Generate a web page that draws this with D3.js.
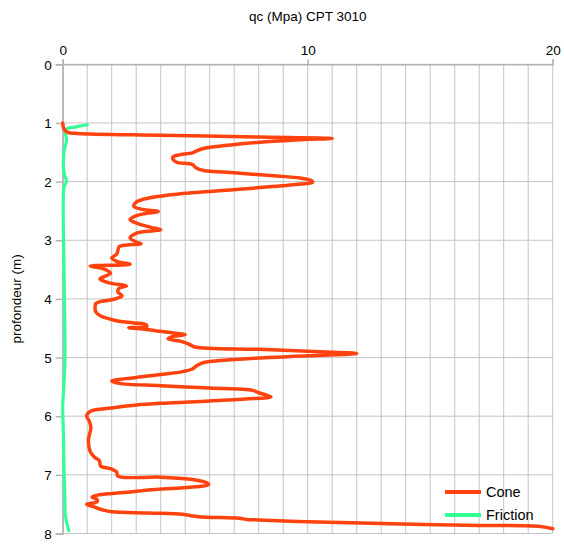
<!DOCTYPE html>
<html>
<head>
<meta charset="utf-8">
<script src="https://cdn.jsdelivr.net/npm/d3@7"></script>
<style>
html,body{margin:0;padding:0;background:#fff;}
svg{display:block;font-family:"Liberation Sans",Arial,sans-serif;}
</style>
</head>
<body>
<svg id="chart" width="564" height="544"></svg>
<script>
// ---- data ----
const chartTitle = "qc (Mpa) CPT 3010";
const yTitle = "profondeur (m)";
const seriesNames = ["Cone", "Friction"];
const xTicks = [0, 10, 20];
const yTicks = [0, 1, 2, 3, 4, 5, 6, 7, 8];

const coneDepth = [1.00,1.10,1.16,1.18,1.21,1.24,1.265,1.29,1.36,1.44,1.48,1.51,1.54,1.58,1.62,1.67,1.71,1.77,1.81,1.85,1.90,1.94,1.98,2.01,2.05,2.12,2.20,2.26,2.30,2.35,2.42,2.47,2.51,2.55,2.60,2.65,2.72,2.78,2.82,2.86,2.90,2.96,3.03,3.06,3.08,3.11,3.18,3.24,3.30,3.36,3.41,3.44,3.47,3.50,3.56,3.60,3.66,3.70,3.74,3.78,3.82,3.88,3.95,4.01,4.05,4.08,4.15,4.22,4.29,4.34,4.38,4.41,4.44,4.47,4.49,4.52,4.57,4.61,4.64,4.68,4.72,4.77,4.82,4.86,4.90,4.93,4.97,5.02,5.08,5.13,5.20,5.24,5.29,5.34,5.40,5.44,5.48,5.52,5.56,5.60,5.64,5.67,5.70,5.74,5.78,5.81,5.86,5.91,5.99,6.10,6.20,6.40,6.60,6.70,6.76,6.85,6.90,6.95,7.02,7.04,7.08,7.14,7.17,7.21,7.25,7.30,7.34,7.38,7.42,7.46,7.50,7.55,7.60,7.63,7.65,7.67,7.70,7.72,7.74,7.76,7.77,7.80,7.83,7.86,7.88,7.92];
const coneQc = [0.0,0.05,0.2,0.6,4.0,8.0,11.0,9.5,7.2,5.7,5.45,5.3,4.8,4.5,4.5,4.65,5.3,5.45,5.75,7.0,8.6,9.7,10.15,10.2,9.5,7.5,5.0,3.8,3.3,3.0,2.9,3.2,3.9,3.3,2.9,2.75,3.1,3.6,4.0,3.2,2.9,2.75,3.0,3.2,2.6,2.3,2.25,2.2,2.0,2.2,2.75,1.12,1.5,1.75,1.95,1.8,1.52,1.7,2.05,2.6,2.3,2.25,2.42,2.05,1.5,1.35,1.32,1.35,1.55,1.9,2.3,2.9,3.4,3.43,2.7,3.4,4.3,5.0,4.5,4.3,4.8,5.15,5.4,8.0,10.5,12.0,10.0,7.5,5.8,5.5,5.27,4.9,4.0,3.0,2.0,2.3,4.0,6.0,7.75,8.0,8.3,8.5,7.8,6.0,4.0,3.0,2.0,1.15,0.98,1.1,1.15,1.05,1.12,1.3,1.5,1.55,2.0,2.2,2.25,4.0,5.3,5.9,5.95,5.2,3.8,2.5,1.5,1.2,1.4,1.4,0.98,1.3,1.65,2.0,3.5,4.9,5.3,5.7,7.2,7.5,8.0,10.0,13.0,16.5,19.5,20.0];

const frictionDepth = [1.03,1.07,1.10,1.17,1.28,1.50,1.75,1.90,1.99,2.08,2.20,2.90,3.40,4.00,4.60,5.10,5.60,5.85,6.30,6.85,7.40,7.65,7.79,7.95];
const frictionQc = [1.0,0.5,0.15,0.1,0.16,0.05,0.03,0.08,0.16,0.06,0.03,0.03,0.05,0.07,0.09,0.09,0.03,0.0,0.03,0.05,0.09,0.1,0.15,0.25];

const colors = ["#ff420e", "#33ff99"];

// ---- layout ----
const margin = {left: 62.7, right: 11.3, top: 64.3, bottom: 10.5};
const W = 564, H = 544;
const svg = d3.select("#chart");
const x = d3.scaleLinear().domain([0, 20]).range([margin.left, W - margin.right]);
const y = d3.scaleLinear().domain([0, 8]).range([margin.top, H - margin.bottom]);

const gridColor = "#c4c4c4";
const axisColor = "#b3b3b3";

// grid
svg.append("g").selectAll("line").data(d3.range(0, 21)).join("line")
  .attr("x1", d => x(d)).attr("x2", d => x(d))
  .attr("y1", y(0)).attr("y2", y(8))
  .attr("stroke", gridColor).attr("stroke-width", 1);
svg.append("g").selectAll("line").data(yTicks).join("line")
  .attr("x1", x(0)).attr("x2", x(20))
  .attr("y1", d => y(d)).attr("y2", d => y(d))
  .attr("stroke", gridColor).attr("stroke-width", 1);

// axes
const topAxis = d3.axisTop(x).tickValues(xTicks).tickSize(5).tickPadding(4).tickFormat(d3.format("d"));
const gTop = svg.append("g").attr("transform", `translate(0,${y(0)})`).call(topAxis);
const leftAxis = d3.axisLeft(y).tickValues(yTicks).tickSize(7).tickPadding(4).tickFormat(d3.format("d"));
const gLeft = svg.append("g").attr("transform", `translate(${x(0)},0)`).call(leftAxis);
[gTop, gLeft].forEach(g => {
  g.select(".domain").attr("stroke", axisColor).attr("stroke-width", 1.5);
  g.selectAll(".tick line").attr("stroke", axisColor).attr("stroke-width", 1.5);
  g.selectAll(".tick text").attr("fill", "#000").style("font-size", "13.5px")
   .style("font-family", '"Liberation Sans",Arial,sans-serif');
});
gLeft.selectAll(".tick text").attr("dy", "0.35em");

// titles
svg.append("text").attr("x", (x(0) + x(20)) / 2).attr("y", 21)
  .attr("text-anchor", "middle").style("font-size", "13.5px").attr("fill", "#000")
  .text(chartTitle);
svg.append("text")
  .attr("transform", `translate(21,${(y(0) + y(8)) / 2}) rotate(-90)`)
  .attr("text-anchor", "middle").style("font-size", "13.5px").attr("fill", "#000")
  .text(yTitle);

// lines
const line = d3.line().x(d => x(d[1])).y(d => y(d[0])).curve(d3.curveCatmullRom.alpha(0.5));
const cone = coneDepth.map((d, i) => [d, coneQc[i]]);
const fric = frictionDepth.map((d, i) => [d, frictionQc[i]]);

const plot = svg.append("g");
plot.append("path").datum(fric).attr("d", line)
  .attr("fill", "none").attr("stroke", colors[1]).attr("stroke-width", 3.2)
  .attr("stroke-linejoin", "round").attr("stroke-linecap", "round");
plot.append("path").datum(cone).attr("d", line)
  .attr("fill", "none").attr("stroke", colors[0]).attr("stroke-width", 3.5)
  .attr("stroke-linejoin", "round").attr("stroke-linecap", "round");

// legend
const legend = svg.append("g");
seriesNames.forEach((name, i) => {
  const ly = 492 + i * 23;
  legend.append("line").attr("x1", 445).attr("x2", 481).attr("y1", ly).attr("y2", ly)
    .attr("stroke", colors[i]).attr("stroke-width", 4);
  legend.append("text").attr("x", 486).attr("y", ly).attr("dy", "0.35em")
    .style("font-size", "14.5px").attr("fill", "#000").text(name);
});
</script>
</body>
</html>
